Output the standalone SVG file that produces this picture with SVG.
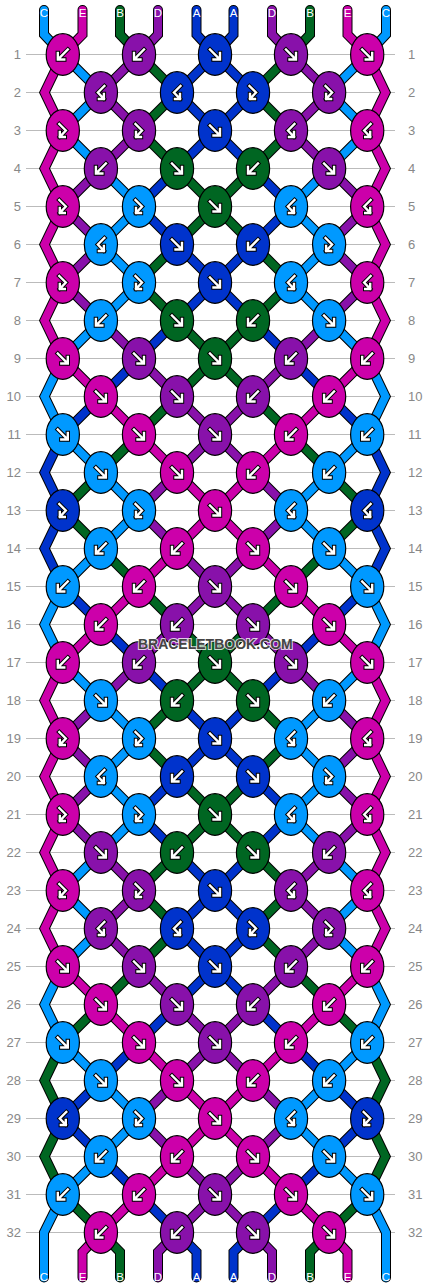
<svg xmlns="http://www.w3.org/2000/svg" width="430" height="1288" viewBox="0 0 430 1288">
<style>
.gl{stroke:#bbb;stroke-width:1}
.rl{font-family:"Liberation Sans",Arial,sans-serif;font-size:13px;fill:#888}
.rl.l{text-anchor:end}
.sl{font-family:"Liberation Sans",Arial,sans-serif;font-size:11.5px;fill:#fff;text-anchor:middle}
.o{fill:none;stroke:#000;stroke-width:10;stroke-linecap:round;stroke-linejoin:miter}
.s{fill:none;stroke-width:8;stroke-linecap:round;stroke-linejoin:miter}
.cA{stroke:#0033cc}.cB{stroke:#006622}.cC{stroke:#0099ff}.cD{stroke:#8811aa}.cE{stroke:#cc00aa}
.kA{fill:#0033cc}.kB{fill:#006622}.kC{fill:#0099ff}.kD{fill:#8811aa}.kE{fill:#cc00aa}
.ao{fill:none;stroke:#000;stroke-width:4.4;stroke-linecap:square}
.aw{fill:none;stroke:#fff;stroke-width:2.4;stroke-linecap:square}
.wm{font-family:"Liberation Sans",Arial,sans-serif;font-size:14px;font-weight:bold;fill:#444;stroke:#fff;stroke-width:2;stroke-opacity:.8;paint-order:stroke;text-anchor:middle}
</style>
<defs>
<ellipse id="kn" rx="16.6" ry="20.8" stroke="#000" stroke-width="1.2"/>
<path id="gf" d="M-5,-5L4.3,4.3M-1.5,5H5V-1.5"/>
<path id="gb" d="M5,-5L-4.3,4.3M1.5,5H-5V-1.5"/>
<path id="gfb" d="M-3.5,-6.5L3,0L-3,6.3M-3,1.5V6.5H2"/>
<path id="gbf" d="M3.5,-6.5L-3,0L3,6.3M3,1.5V6.5H-2"/>
<g id="f"><use href="#gf" class="ao"/><use href="#gf" class="aw"/></g>
<g id="b"><use href="#gb" class="ao"/><use href="#gb" class="aw"/></g>
<g id="fb"><use href="#gfb" class="ao"/><use href="#gfb" class="aw"/></g>
<g id="bf"><use href="#gbf" class="ao"/><use href="#gbf" class="aw"/></g>
<path id="pC" d="M44,10V34.5L62.8,54.5M62.8,358.5L44.5,396.5L62.8,434.5M62.8,586.5L44.5,624.5L62.8,662.5M62.8,966.5L44.5,1004.5L62.8,1042.5M62.8,1194.5L44,1232.5V1277.5
M62.8,54.5L100.9,92.5M62.8,130.5L100.9,168.5M139,206.5L100.9,244.5M139,282.5L100.9,320.5M62.8,434.5L100.9,472.5M139,510.5L100.9,548.5M62.8,662.5L100.9,700.5M139,738.5L100.9,776.5M139,814.5L100.9,852.5M62.8,890.5L100.9,928.5M62.8,1042.5L100.9,1080.5M139,1118.5L100.9,1156.5
M100.9,92.5L62.8,130.5M100.9,168.5L139,206.5M100.9,244.5L139,282.5M100.9,320.5L62.8,358.5M100.9,472.5L139,510.5M100.9,548.5L62.8,586.5M100.9,700.5L139,738.5M100.9,776.5L139,814.5M100.9,852.5L62.8,890.5M100.9,928.5L62.8,966.5M100.9,1080.5L139,1118.5M100.9,1156.5L62.8,1194.5"/>
<path id="pE" d="M82.5,10V34.5L62.8,54.5M62.8,54.5L44.5,92.5L62.8,130.5L44.5,168.5L62.8,206.5L44.5,244.5L62.8,282.5L44.5,320.5L62.8,358.5M62.8,662.5L44.5,700.5L62.8,738.5L44.5,776.5L62.8,814.5L44.5,852.5L62.8,890.5L44.5,928.5L62.8,966.5
M62.8,358.5L100.9,396.5M139,434.5L177,472.5M215,510.5L177,548.5M139,586.5L100.9,624.5M62.8,966.5L100.9,1004.5M139,1042.5L177,1080.5M215,1118.5L177,1156.5M139,1194.5L100.9,1232.5
M100.9,396.5L139,434.5M177,472.5L215,510.5M177,548.5L139,586.5M100.9,624.5L62.8,662.5M100.9,1004.5L139,1042.5M177,1080.5L215,1118.5M177,1156.5L139,1194.5M100.9,1232.5L82.5,1252V1277.5"/>
<path id="pB" d="M120,10V34.5L139,54.5M62.8,1042.5L44.5,1080.5L62.8,1118.5L44.5,1156.5L62.8,1194.5
M139,54.5L177,92.5M139,130.5L177,168.5M215,206.5L177,244.5M139,282.5L177,320.5M215,358.5L177,396.5M139,434.5L100.9,472.5M62.8,510.5L100.9,548.5M139,586.5L177,624.5M215,662.5L177,700.5M139,738.5L177,776.5M215,814.5L177,852.5M139,890.5L177,928.5M139,966.5L100.9,1004.5M62.8,1194.5L100.9,1232.5
M177,92.5L139,130.5M177,168.5L215,206.5M177,244.5L139,282.5M177,320.5L215,358.5M177,396.5L139,434.5M100.9,472.5L62.8,510.5M100.9,548.5L139,586.5M177,624.5L215,662.5M177,700.5L139,738.5M177,776.5L215,814.5M177,852.5L139,890.5M177,928.5L139,966.5M100.9,1004.5L62.8,1042.5M100.9,1232.5L120,1252V1277.5"/>
<path id="pD" d="M158,10V34.5L139,54.5
M139,54.5L100.9,92.5M139,130.5L100.9,168.5M62.8,206.5L100.9,244.5M62.8,282.5L100.9,320.5M139,358.5L177,396.5M215,434.5L177,472.5M139,510.5L177,548.5M215,586.5L177,624.5M139,662.5L100.9,700.5M62.8,738.5L100.9,776.5M62.8,814.5L100.9,852.5M139,890.5L100.9,928.5M139,966.5L177,1004.5M215,1042.5L177,1080.5M139,1118.5L177,1156.5M215,1194.5L177,1232.5
M100.9,92.5L139,130.5M100.9,168.5L62.8,206.5M100.9,244.5L62.8,282.5M100.9,320.5L139,358.5M177,396.5L215,434.5M177,472.5L139,510.5M177,548.5L215,586.5M177,624.5L139,662.5M100.9,700.5L62.8,738.5M100.9,776.5L62.8,814.5M100.9,852.5L139,890.5M100.9,928.5L139,966.5M177,1004.5L215,1042.5M177,1080.5L139,1118.5M177,1156.5L215,1194.5M177,1232.5L158,1252V1277.5"/>
<path id="pA" d="M196.5,10V34.5L215,54.5M62.8,434.5L44.5,472.5L62.8,510.5L44.5,548.5L62.8,586.5
M215,54.5L177,92.5M215,130.5L177,168.5M139,206.5L177,244.5M215,282.5L177,320.5M139,358.5L100.9,396.5M62.8,586.5L100.9,624.5M139,662.5L177,700.5M215,738.5L177,776.5M139,814.5L177,852.5M215,890.5L177,928.5M215,966.5L177,1004.5M139,1042.5L100.9,1080.5M62.8,1118.5L100.9,1156.5M139,1194.5L177,1232.5
M177,92.5L215,130.5M177,168.5L139,206.5M177,244.5L215,282.5M177,320.5L139,358.5M100.9,396.5L62.8,434.5M100.9,624.5L139,662.5M177,700.5L215,738.5M177,776.5L139,814.5M177,852.5L215,890.5M177,928.5L215,966.5M177,1004.5L139,1042.5M100.9,1080.5L62.8,1118.5M100.9,1156.5L139,1194.5M177,1232.5L196.5,1252V1277.5"/>
</defs>
<rect width="430" height="1288" fill="#fff"/>
<g id="grid">
<path class="gl" d="M26,54.5H395M26,92.5H395M26,130.5H395M26,168.5H395M26,206.5H395M26,244.5H395M26,282.5H395M26,320.5H395M26,358.5H395M26,396.5H395M26,434.5H395M26,472.5H395M26,510.5H395M26,548.5H395M26,586.5H395M26,624.5H395M26,662.5H395M26,700.5H395M26,738.5H395M26,776.5H395M26,814.5H395M26,852.5H395M26,890.5H395M26,928.5H395M26,966.5H395M26,1004.5H395M26,1042.5H395M26,1080.5H395M26,1118.5H395M26,1156.5H395M26,1194.5H395M26,1232.5H395"/>
<g class="rl l">
<text x="21" y="59">1</text><text x="21" y="97">2</text><text x="21" y="135">3</text><text x="21" y="173">4</text><text x="21" y="211">5</text><text x="21" y="249">6</text><text x="21" y="287">7</text><text x="21" y="325">8</text><text x="21" y="363">9</text><text x="21" y="401">10</text><text x="21" y="439">11</text><text x="21" y="477">12</text><text x="21" y="515">13</text><text x="21" y="553">14</text><text x="21" y="591">15</text><text x="21" y="629">16</text><text x="21" y="667">17</text><text x="21" y="705">18</text><text x="21" y="743">19</text><text x="21" y="781">20</text><text x="21" y="819">21</text><text x="21" y="857">22</text><text x="21" y="895">23</text><text x="21" y="933">24</text><text x="21" y="971">25</text><text x="21" y="1009">26</text><text x="21" y="1047">27</text><text x="21" y="1085">28</text><text x="21" y="1123">29</text><text x="21" y="1161">30</text><text x="21" y="1199">31</text><text x="21" y="1237">32</text>
</g>
<g class="rl">
<text x="408" y="59">1</text><text x="408" y="97">2</text><text x="408" y="135">3</text><text x="408" y="173">4</text><text x="408" y="211">5</text><text x="408" y="249">6</text><text x="408" y="287">7</text><text x="408" y="325">8</text><text x="408" y="363">9</text><text x="408" y="401">10</text><text x="408" y="439">11</text><text x="408" y="477">12</text><text x="408" y="515">13</text><text x="408" y="553">14</text><text x="408" y="591">15</text><text x="408" y="629">16</text><text x="408" y="667">17</text><text x="408" y="705">18</text><text x="408" y="743">19</text><text x="408" y="781">20</text><text x="408" y="819">21</text><text x="408" y="857">22</text><text x="408" y="895">23</text><text x="408" y="933">24</text><text x="408" y="971">25</text><text x="408" y="1009">26</text><text x="408" y="1047">27</text><text x="408" y="1085">28</text><text x="408" y="1123">29</text><text x="408" y="1161">30</text><text x="408" y="1199">31</text><text x="408" y="1237">32</text>
</g>
</g>
<g id="connectors">
<g id="half">
<use href="#pC" class="o"/><use href="#pE" class="o"/><use href="#pB" class="o"/><use href="#pD" class="o"/><use href="#pA" class="o"/>
<use href="#pC" class="s cC"/><use href="#pE" class="s cE"/><use href="#pB" class="s cB"/><use href="#pD" class="s cD"/><use href="#pA" class="s cA"/>
</g>
<use href="#half" transform="matrix(-1 0 0 1 430 0)"/>
</g>
<g id="knots">
<g id="r1k1" transform="translate(62.8 54.5)"><use href="#kn" class="kE"/><use href="#b"/></g>
<g id="r1k2" transform="translate(139 54.5)"><use href="#kn" class="kD"/><use href="#b"/></g>
<g id="r1k3" transform="translate(215 54.5)"><use href="#kn" class="kA"/><use href="#f"/></g>
<g id="r1k4" transform="translate(291 54.5)"><use href="#kn" class="kD"/><use href="#f"/></g>
<g id="r1k5" transform="translate(367.2 54.5)"><use href="#kn" class="kE"/><use href="#f"/></g>
<g id="r2k1" transform="translate(100.9 92.5)"><use href="#kn" class="kD"/><use href="#bf"/></g>
<g id="r2k2" transform="translate(177 92.5)"><use href="#kn" class="kA"/><use href="#bf"/></g>
<g id="r2k3" transform="translate(253 92.5)"><use href="#kn" class="kA"/><use href="#fb"/></g>
<g id="r2k4" transform="translate(329.1 92.5)"><use href="#kn" class="kD"/><use href="#fb"/></g>
<g id="r3k1" transform="translate(62.8 130.5)"><use href="#kn" class="kE"/><use href="#fb"/></g>
<g id="r3k2" transform="translate(139 130.5)"><use href="#kn" class="kD"/><use href="#fb"/></g>
<g id="r3k3" transform="translate(215 130.5)"><use href="#kn" class="kA"/><use href="#f"/></g>
<g id="r3k4" transform="translate(291 130.5)"><use href="#kn" class="kD"/><use href="#bf"/></g>
<g id="r3k5" transform="translate(367.2 130.5)"><use href="#kn" class="kE"/><use href="#bf"/></g>
<g id="r4k1" transform="translate(100.9 168.5)"><use href="#kn" class="kD"/><use href="#b"/></g>
<g id="r4k2" transform="translate(177 168.5)"><use href="#kn" class="kB"/><use href="#f"/></g>
<g id="r4k3" transform="translate(253 168.5)"><use href="#kn" class="kB"/><use href="#b"/></g>
<g id="r4k4" transform="translate(329.1 168.5)"><use href="#kn" class="kD"/><use href="#f"/></g>
<g id="r5k1" transform="translate(62.8 206.5)"><use href="#kn" class="kE"/><use href="#fb"/></g>
<g id="r5k2" transform="translate(139 206.5)"><use href="#kn" class="kC"/><use href="#fb"/></g>
<g id="r5k3" transform="translate(215 206.5)"><use href="#kn" class="kB"/><use href="#f"/></g>
<g id="r5k4" transform="translate(291 206.5)"><use href="#kn" class="kC"/><use href="#bf"/></g>
<g id="r5k5" transform="translate(367.2 206.5)"><use href="#kn" class="kE"/><use href="#bf"/></g>
<g id="r6k1" transform="translate(100.9 244.5)"><use href="#kn" class="kC"/><use href="#bf"/></g>
<g id="r6k2" transform="translate(177 244.5)"><use href="#kn" class="kA"/><use href="#f"/></g>
<g id="r6k3" transform="translate(253 244.5)"><use href="#kn" class="kA"/><use href="#b"/></g>
<g id="r6k4" transform="translate(329.1 244.5)"><use href="#kn" class="kC"/><use href="#fb"/></g>
<g id="r7k1" transform="translate(62.8 282.5)"><use href="#kn" class="kE"/><use href="#fb"/></g>
<g id="r7k2" transform="translate(139 282.5)"><use href="#kn" class="kC"/><use href="#fb"/></g>
<g id="r7k3" transform="translate(215 282.5)"><use href="#kn" class="kA"/><use href="#f"/></g>
<g id="r7k4" transform="translate(291 282.5)"><use href="#kn" class="kC"/><use href="#bf"/></g>
<g id="r7k5" transform="translate(367.2 282.5)"><use href="#kn" class="kE"/><use href="#bf"/></g>
<g id="r8k1" transform="translate(100.9 320.5)"><use href="#kn" class="kC"/><use href="#b"/></g>
<g id="r8k2" transform="translate(177 320.5)"><use href="#kn" class="kB"/><use href="#f"/></g>
<g id="r8k3" transform="translate(253 320.5)"><use href="#kn" class="kB"/><use href="#b"/></g>
<g id="r8k4" transform="translate(329.1 320.5)"><use href="#kn" class="kC"/><use href="#f"/></g>
<g id="r9k1" transform="translate(62.8 358.5)"><use href="#kn" class="kE"/><use href="#f"/></g>
<g id="r9k2" transform="translate(139 358.5)"><use href="#kn" class="kD"/><use href="#f"/></g>
<g id="r9k3" transform="translate(215 358.5)"><use href="#kn" class="kB"/><use href="#f"/></g>
<g id="r9k4" transform="translate(291 358.5)"><use href="#kn" class="kD"/><use href="#b"/></g>
<g id="r9k5" transform="translate(367.2 358.5)"><use href="#kn" class="kE"/><use href="#b"/></g>
<g id="r10k1" transform="translate(100.9 396.5)"><use href="#kn" class="kE"/><use href="#f"/></g>
<g id="r10k2" transform="translate(177 396.5)"><use href="#kn" class="kD"/><use href="#f"/></g>
<g id="r10k3" transform="translate(253 396.5)"><use href="#kn" class="kD"/><use href="#b"/></g>
<g id="r10k4" transform="translate(329.1 396.5)"><use href="#kn" class="kE"/><use href="#b"/></g>
<g id="r11k1" transform="translate(62.8 434.5)"><use href="#kn" class="kC"/><use href="#f"/></g>
<g id="r11k2" transform="translate(139 434.5)"><use href="#kn" class="kE"/><use href="#f"/></g>
<g id="r11k3" transform="translate(215 434.5)"><use href="#kn" class="kD"/><use href="#f"/></g>
<g id="r11k4" transform="translate(291 434.5)"><use href="#kn" class="kE"/><use href="#b"/></g>
<g id="r11k5" transform="translate(367.2 434.5)"><use href="#kn" class="kC"/><use href="#b"/></g>
<g id="r12k1" transform="translate(100.9 472.5)"><use href="#kn" class="kC"/><use href="#f"/></g>
<g id="r12k2" transform="translate(177 472.5)"><use href="#kn" class="kE"/><use href="#f"/></g>
<g id="r12k3" transform="translate(253 472.5)"><use href="#kn" class="kE"/><use href="#b"/></g>
<g id="r12k4" transform="translate(329.1 472.5)"><use href="#kn" class="kC"/><use href="#b"/></g>
<g id="r13k1" transform="translate(62.8 510.5)"><use href="#kn" class="kA"/><use href="#fb"/></g>
<g id="r13k2" transform="translate(139 510.5)"><use href="#kn" class="kC"/><use href="#fb"/></g>
<g id="r13k3" transform="translate(215 510.5)"><use href="#kn" class="kE"/><use href="#f"/></g>
<g id="r13k4" transform="translate(291 510.5)"><use href="#kn" class="kC"/><use href="#bf"/></g>
<g id="r13k5" transform="translate(367.2 510.5)"><use href="#kn" class="kA"/><use href="#bf"/></g>
<g id="r14k1" transform="translate(100.9 548.5)"><use href="#kn" class="kC"/><use href="#b"/></g>
<g id="r14k2" transform="translate(177 548.5)"><use href="#kn" class="kE"/><use href="#b"/></g>
<g id="r14k3" transform="translate(253 548.5)"><use href="#kn" class="kE"/><use href="#f"/></g>
<g id="r14k4" transform="translate(329.1 548.5)"><use href="#kn" class="kC"/><use href="#f"/></g>
<g id="r15k1" transform="translate(62.8 586.5)"><use href="#kn" class="kC"/><use href="#b"/></g>
<g id="r15k2" transform="translate(139 586.5)"><use href="#kn" class="kE"/><use href="#b"/></g>
<g id="r15k3" transform="translate(215 586.5)"><use href="#kn" class="kD"/><use href="#f"/></g>
<g id="r15k4" transform="translate(291 586.5)"><use href="#kn" class="kE"/><use href="#f"/></g>
<g id="r15k5" transform="translate(367.2 586.5)"><use href="#kn" class="kC"/><use href="#f"/></g>
<g id="r16k1" transform="translate(100.9 624.5)"><use href="#kn" class="kE"/><use href="#b"/></g>
<g id="r16k2" transform="translate(177 624.5)"><use href="#kn" class="kD"/><use href="#b"/></g>
<g id="r16k3" transform="translate(253 624.5)"><use href="#kn" class="kD"/><use href="#f"/></g>
<g id="r16k4" transform="translate(329.1 624.5)"><use href="#kn" class="kE"/><use href="#f"/></g>
<g id="r17k1" transform="translate(62.8 662.5)"><use href="#kn" class="kE"/><use href="#b"/></g>
<g id="r17k2" transform="translate(139 662.5)"><use href="#kn" class="kD"/><use href="#b"/></g>
<g id="r17k3" transform="translate(215 662.5)"><use href="#kn" class="kB"/><use href="#f"/></g>
<g id="r17k4" transform="translate(291 662.5)"><use href="#kn" class="kD"/><use href="#f"/></g>
<g id="r17k5" transform="translate(367.2 662.5)"><use href="#kn" class="kE"/><use href="#f"/></g>
<g id="r18k1" transform="translate(100.9 700.5)"><use href="#kn" class="kC"/><use href="#f"/></g>
<g id="r18k2" transform="translate(177 700.5)"><use href="#kn" class="kB"/><use href="#b"/></g>
<g id="r18k3" transform="translate(253 700.5)"><use href="#kn" class="kB"/><use href="#f"/></g>
<g id="r18k4" transform="translate(329.1 700.5)"><use href="#kn" class="kC"/><use href="#b"/></g>
<g id="r19k1" transform="translate(62.8 738.5)"><use href="#kn" class="kE"/><use href="#fb"/></g>
<g id="r19k2" transform="translate(139 738.5)"><use href="#kn" class="kC"/><use href="#fb"/></g>
<g id="r19k3" transform="translate(215 738.5)"><use href="#kn" class="kA"/><use href="#f"/></g>
<g id="r19k4" transform="translate(291 738.5)"><use href="#kn" class="kC"/><use href="#bf"/></g>
<g id="r19k5" transform="translate(367.2 738.5)"><use href="#kn" class="kE"/><use href="#bf"/></g>
<g id="r20k1" transform="translate(100.9 776.5)"><use href="#kn" class="kC"/><use href="#bf"/></g>
<g id="r20k2" transform="translate(177 776.5)"><use href="#kn" class="kA"/><use href="#b"/></g>
<g id="r20k3" transform="translate(253 776.5)"><use href="#kn" class="kA"/><use href="#f"/></g>
<g id="r20k4" transform="translate(329.1 776.5)"><use href="#kn" class="kC"/><use href="#fb"/></g>
<g id="r21k1" transform="translate(62.8 814.5)"><use href="#kn" class="kE"/><use href="#fb"/></g>
<g id="r21k2" transform="translate(139 814.5)"><use href="#kn" class="kC"/><use href="#fb"/></g>
<g id="r21k3" transform="translate(215 814.5)"><use href="#kn" class="kB"/><use href="#f"/></g>
<g id="r21k4" transform="translate(291 814.5)"><use href="#kn" class="kC"/><use href="#bf"/></g>
<g id="r21k5" transform="translate(367.2 814.5)"><use href="#kn" class="kE"/><use href="#bf"/></g>
<g id="r22k1" transform="translate(100.9 852.5)"><use href="#kn" class="kD"/><use href="#f"/></g>
<g id="r22k2" transform="translate(177 852.5)"><use href="#kn" class="kB"/><use href="#b"/></g>
<g id="r22k3" transform="translate(253 852.5)"><use href="#kn" class="kB"/><use href="#f"/></g>
<g id="r22k4" transform="translate(329.1 852.5)"><use href="#kn" class="kD"/><use href="#b"/></g>
<g id="r23k1" transform="translate(62.8 890.5)"><use href="#kn" class="kE"/><use href="#fb"/></g>
<g id="r23k2" transform="translate(139 890.5)"><use href="#kn" class="kD"/><use href="#fb"/></g>
<g id="r23k3" transform="translate(215 890.5)"><use href="#kn" class="kA"/><use href="#f"/></g>
<g id="r23k4" transform="translate(291 890.5)"><use href="#kn" class="kD"/><use href="#bf"/></g>
<g id="r23k5" transform="translate(367.2 890.5)"><use href="#kn" class="kE"/><use href="#bf"/></g>
<g id="r24k1" transform="translate(100.9 928.5)"><use href="#kn" class="kD"/><use href="#bf"/></g>
<g id="r24k2" transform="translate(177 928.5)"><use href="#kn" class="kA"/><use href="#bf"/></g>
<g id="r24k3" transform="translate(253 928.5)"><use href="#kn" class="kA"/><use href="#fb"/></g>
<g id="r24k4" transform="translate(329.1 928.5)"><use href="#kn" class="kD"/><use href="#fb"/></g>
<g id="r25k1" transform="translate(62.8 966.5)"><use href="#kn" class="kE"/><use href="#f"/></g>
<g id="r25k2" transform="translate(139 966.5)"><use href="#kn" class="kD"/><use href="#f"/></g>
<g id="r25k3" transform="translate(215 966.5)"><use href="#kn" class="kA"/><use href="#f"/></g>
<g id="r25k4" transform="translate(291 966.5)"><use href="#kn" class="kD"/><use href="#b"/></g>
<g id="r25k5" transform="translate(367.2 966.5)"><use href="#kn" class="kE"/><use href="#b"/></g>
<g id="r26k1" transform="translate(100.9 1004.5)"><use href="#kn" class="kE"/><use href="#f"/></g>
<g id="r26k2" transform="translate(177 1004.5)"><use href="#kn" class="kD"/><use href="#f"/></g>
<g id="r26k3" transform="translate(253 1004.5)"><use href="#kn" class="kD"/><use href="#b"/></g>
<g id="r26k4" transform="translate(329.1 1004.5)"><use href="#kn" class="kE"/><use href="#b"/></g>
<g id="r27k1" transform="translate(62.8 1042.5)"><use href="#kn" class="kC"/><use href="#f"/></g>
<g id="r27k2" transform="translate(139 1042.5)"><use href="#kn" class="kE"/><use href="#f"/></g>
<g id="r27k3" transform="translate(215 1042.5)"><use href="#kn" class="kD"/><use href="#f"/></g>
<g id="r27k4" transform="translate(291 1042.5)"><use href="#kn" class="kE"/><use href="#b"/></g>
<g id="r27k5" transform="translate(367.2 1042.5)"><use href="#kn" class="kC"/><use href="#b"/></g>
<g id="r28k1" transform="translate(100.9 1080.5)"><use href="#kn" class="kC"/><use href="#f"/></g>
<g id="r28k2" transform="translate(177 1080.5)"><use href="#kn" class="kE"/><use href="#f"/></g>
<g id="r28k3" transform="translate(253 1080.5)"><use href="#kn" class="kE"/><use href="#b"/></g>
<g id="r28k4" transform="translate(329.1 1080.5)"><use href="#kn" class="kC"/><use href="#b"/></g>
<g id="r29k1" transform="translate(62.8 1118.5)"><use href="#kn" class="kA"/><use href="#bf"/></g>
<g id="r29k2" transform="translate(139 1118.5)"><use href="#kn" class="kC"/><use href="#fb"/></g>
<g id="r29k3" transform="translate(215 1118.5)"><use href="#kn" class="kE"/><use href="#f"/></g>
<g id="r29k4" transform="translate(291 1118.5)"><use href="#kn" class="kC"/><use href="#bf"/></g>
<g id="r29k5" transform="translate(367.2 1118.5)"><use href="#kn" class="kA"/><use href="#fb"/></g>
<g id="r30k1" transform="translate(100.9 1156.5)"><use href="#kn" class="kC"/><use href="#b"/></g>
<g id="r30k2" transform="translate(177 1156.5)"><use href="#kn" class="kE"/><use href="#b"/></g>
<g id="r30k3" transform="translate(253 1156.5)"><use href="#kn" class="kE"/><use href="#f"/></g>
<g id="r30k4" transform="translate(329.1 1156.5)"><use href="#kn" class="kC"/><use href="#f"/></g>
<g id="r31k1" transform="translate(62.8 1194.5)"><use href="#kn" class="kC"/><use href="#b"/></g>
<g id="r31k2" transform="translate(139 1194.5)"><use href="#kn" class="kE"/><use href="#b"/></g>
<g id="r31k3" transform="translate(215 1194.5)"><use href="#kn" class="kD"/><use href="#f"/></g>
<g id="r31k4" transform="translate(291 1194.5)"><use href="#kn" class="kE"/><use href="#f"/></g>
<g id="r31k5" transform="translate(367.2 1194.5)"><use href="#kn" class="kC"/><use href="#f"/></g>
<g id="r32k1" transform="translate(100.9 1232.5)"><use href="#kn" class="kE"/><use href="#b"/></g>
<g id="r32k2" transform="translate(177 1232.5)"><use href="#kn" class="kD"/><use href="#b"/></g>
<g id="r32k3" transform="translate(253 1232.5)"><use href="#kn" class="kD"/><use href="#f"/></g>
<g id="r32k4" transform="translate(329.1 1232.5)"><use href="#kn" class="kE"/><use href="#f"/></g>
</g>
<g id="string-labels" class="sl">
<text x="44" y="16.5">C</text><text x="82.5" y="16.5">E</text><text x="120" y="16.5">B</text><text x="158" y="16.5">D</text><text x="196.5" y="16.5">A</text><text x="233.5" y="16.5">A</text><text x="272" y="16.5">D</text><text x="310" y="16.5">B</text><text x="347.5" y="16.5">E</text><text x="386" y="16.5">C</text>
<text x="44" y="1280.5">C</text><text x="82.5" y="1280.5">E</text><text x="120" y="1280.5">B</text><text x="158" y="1280.5">D</text><text x="196.5" y="1280.5">A</text><text x="233.5" y="1280.5">A</text><text x="272" y="1280.5">D</text><text x="310" y="1280.5">B</text><text x="347.5" y="1280.5">E</text><text x="386" y="1280.5">C</text>
</g>
<text class="wm" x="215.3" y="649">BRACELETBOOK.COM</text>
</svg>
